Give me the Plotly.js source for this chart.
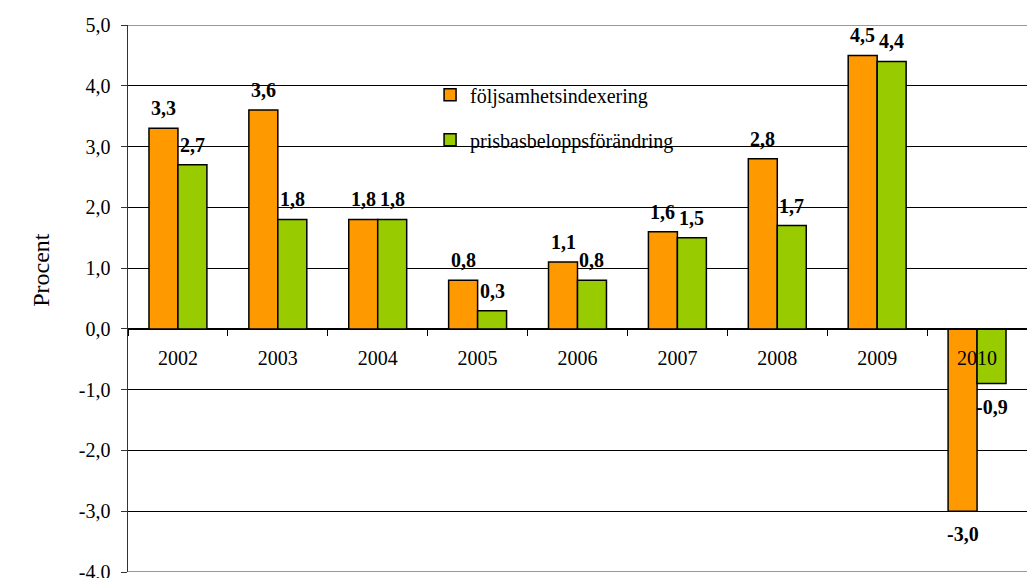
<!DOCTYPE html>
<html>
<head>
<meta charset="utf-8">
<script src="https://cdn.plot.ly/plotly-3.0.1.min.js"></script>
<style>html,body{margin:0;padding:0;background:#fff;}#chart{width:1027px;height:578px;}</style>
</head>
<body>
<div id="chart"></div>
<script>
var years = ['2002','2003','2004','2005','2006','2007','2008','2009','2010'];
var foljsamhet = [3.3, 3.6, 1.8, 0.8, 1.1, 1.6, 2.8, 4.5, -3.0];
var prisbas = [2.7, 1.8, 1.8, 0.3, 0.8, 1.5, 1.7, 4.4, -0.9];
var seriesNames = ['följsamhetsindexering', 'prisbasbeloppsförändring'];
var yTickVals = [-4, -3, -2, -1, 0, 1, 2, 3, 4, 5];
var yTickText = ['-4,0', '-3,0', '-2,0', '-1,0', '0,0', '1,0', '2,0', '3,0', '4,0', '5,0'];

var serif = 'Liberation Serif';
var orange = '#FF9900', green = '#99CC00';

function fmt(v) { return v.toFixed(1).replace('.', ','); }

var traces = [
  {type:'bar', name:seriesNames[0], x:years, y:foljsamhet, legendgroup:'a',
   marker:{color:orange, line:{color:'#000', width:1.5}}, hoverinfo:'skip'},
  {type:'bar', name:seriesNames[1], x:years, y:prisbas, legendgroup:'b',
   marker:{color:green, line:{color:'#000', width:1.5}}, hoverinfo:'skip'}
];

var bargap = 0.42;
var catPx = 899 / years.length;
var half = catPx * (1 - bargap) / 4;

var annotations = [];
[foljsamhet, prisbas].forEach(function(arr, si) {
  arr.forEach(function(v, i) {
    annotations.push({
      x: i, y: v, xref:'x', yref:'y',
      text: '<b>' + fmt(v) + '</b>', showarrow:false,
      xshift: si === 0 ? -half : half,
      yshift: v >= 0 ? 20 : -23,
      yanchor:'middle', xanchor:'center',
      font:{family:serif, size:20, color:'#000'}
    });
  });
});
annotations.push({
  x: -0.097, y: 0.552, xref:'paper', yref:'paper', text:'Procent', showarrow:false,
  textangle:-90, font:{family:serif, size:24, color:'#000'}, xanchor:'center', yanchor:'middle'
});

var layout = {
  width:1027, height:578,
  margin:{l:128, r:0, t:25, b:6, pad:0},
  paper_bgcolor:'#fff', plot_bgcolor:'#fff',
  font:{family:serif, color:'#000'},
  separators:', ',
  barmode:'group', bargap:bargap, bargroupgap:0,
  showlegend:true,
  legend:{x:0.336, y:0.908, xanchor:'left', yanchor:'top', bgcolor:'rgba(0,0,0,0)',
          traceorder:'grouped', tracegroupgap:16,
          font:{family:serif, size:20, color:'#000'}},
  xaxis:{type:'category', range:[-0.5, 8.5], anchor:'free', position:4/9, showline:true, linecolor:'#000', linewidth:1,
         ticks:'outside', tickson:'boundaries', ticklen:6, tickcolor:'#000', showgrid:false,
         tickfont:{family:serif, size:20, color:'#000'}, ticklabelstandoff:11, fixedrange:true},
  yaxis:{range:[-4,5], tickvals:yTickVals, ticktext:yTickText, showgrid:true, gridcolor:'#000', gridwidth:1,
         zeroline:false, showline:true, linecolor:'#333', linewidth:1.5, ticks:'outside', ticklen:6,
         tickcolor:'#333', tickfont:{family:serif, size:20, color:'#000'}, ticklabelstandoff:6,
         ticklabeloverflow:'allow', automargin:false, fixedrange:true},
  shapes:[
    {type:'rect', xref:'paper', yref:'y', x0:0.3025, x1:0.693, y0:2.75, y1:4.45,
     fillcolor:'#fff', line:{width:0}, layer:'between'},
    {type:'line', xref:'paper', yref:'y', x0:0, x1:1, y0:5, y1:5, line:{color:'#999', width:2}, layer:'between'},
    {type:'line', xref:'paper', yref:'y', x0:0, x1:1, y0:-4, y1:-4, line:{color:'#999', width:2}, layer:'between'}
  ],
  annotations:annotations
};

Plotly.newPlot('chart', traces, layout, {staticPlot:true, displayModeBar:false});
</script>
</body>
</html>
